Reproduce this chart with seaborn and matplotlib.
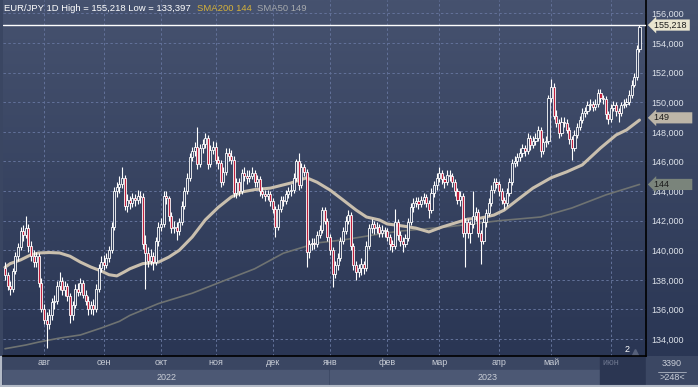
import numpy as np
import pandas as pd
import matplotlib
matplotlib.use("Agg")
import matplotlib.pyplot as plt
from matplotlib.colors import LinearSegmentedColormap
from matplotlib.patches import Rectangle
import seaborn as sns

# EUR/JPY 1D, 11.07.2022 - 16.06.2023
opens = [138.8, 138.3, 137.6, 137.4, 138.6, 139.6, 140.2, 141.3, 141.0, 141.5,
         140.3, 139.6, 139.2, 139.6, 137.8, 136.0, 135.3, 135.0, 135.6, 136.5,
         136.6, 137.6, 137.9, 137.3, 137.6, 136.9, 135.6, 136.3, 137.4, 137.2,
         137.8, 137.0, 136.6, 136.0, 136.3, 136.0, 137.4, 138.8, 139.2, 139.0,
         139.5, 140.0, 141.6, 144.0, 144.3, 144.5, 144.9, 143.0, 143.4, 143.2,
         143.5, 143.4, 143.7, 143.6, 140.4, 139.8, 139.3, 139.6, 139.2, 140.6,
         141.6, 141.8, 143.7, 143.5, 142.3, 141.5, 141.6, 141.3, 141.9, 143.0,
         144.0, 144.9, 146.3, 146.7, 147.0, 145.8, 146.9, 147.2, 147.6, 145.8,
         146.8, 147.0, 146.1, 145.9, 144.6, 145.3, 146.6, 146.4, 146.1, 143.9,
         144.6, 144.0, 145.2, 145.0, 144.9, 145.0, 145.2, 144.6, 144.8, 144.0,
         143.8, 143.7, 143.8, 143.3, 142.8, 141.6, 142.8, 143.4, 143.3, 143.8,
         144.0, 144.1, 144.9, 146.0, 144.4, 145.6, 145.3, 139.9, 140.4, 140.5,
         140.4, 141.0, 141.4, 142.7, 142.0, 140.9, 140.0, 138.4, 139.0, 139.5,
         140.6, 141.3, 142.0, 142.4, 140.3, 139.0, 138.5, 138.8, 139.1, 138.8,
         140.3, 141.5, 141.8, 141.5, 141.6, 141.2, 141.4, 141.3, 140.9, 140.4,
         140.3, 141.9, 141.0, 140.6, 140.4, 140.8, 141.9, 142.9, 143.2, 143.3,
         143.1, 143.4, 143.6, 143.2, 142.7, 143.9, 144.4, 144.9, 145.2, 144.8,
         144.6, 145.1, 145.0, 144.6, 144.0, 143.4, 143.7, 141.2, 141.9, 141.2,
         141.8, 142.3, 142.6, 141.2, 140.6, 141.9, 142.5, 143.2, 144.1, 144.6,
         144.5, 144.0, 143.4, 143.2, 143.9, 144.6, 145.9, 146.0, 146.3, 146.6,
         146.9, 146.7, 147.6, 147.1, 147.4, 147.6, 148.1, 146.7, 147.3, 147.4,
         150.3, 151.0, 149.1, 148.6, 147.9, 148.7, 148.6, 148.1, 147.5, 146.9,
         147.8, 148.3, 148.8, 149.3, 149.4, 149.8, 149.9, 149.7, 149.9, 150.6,
         150.3, 150.2, 149.2, 148.9, 149.6, 149.8, 149.4, 149.3, 149.8, 149.9,
         150.0, 150.5, 151.2, 151.7, 153.6]

highs = [139.2, 138.5, 137.9, 138.8, 139.9, 140.5, 141.6, 141.7, 142.3, 141.8,
         140.6, 140.0, 139.9, 139.8, 138.1, 136.4, 135.8, 136.0, 136.8, 137.0,
         137.9, 138.5, 138.2, 137.9, 137.8, 137.1, 136.6, 137.7, 137.8, 138.1,
         138.0, 137.3, 136.9, 136.6, 136.7, 137.7, 139.1, 139.6, 139.7, 139.8,
         140.3, 141.9, 144.3, 144.6, 145.0, 145.6, 145.1, 143.8, 143.7, 143.9,
         143.8, 144.1, 144.0, 143.9, 141.0, 140.2, 140.1, 139.9, 140.9, 141.9,
         142.2, 144.0, 144.0, 143.7, 142.6, 142.0, 141.9, 142.2, 143.3, 144.3,
         145.2, 146.6, 147.0, 147.3, 148.3, 147.2, 147.5, 147.9, 147.8, 147.1,
         147.4, 147.3, 146.4, 146.1, 145.6, 146.9, 146.9, 146.8, 146.4, 144.9,
         144.9, 145.5, 145.6, 145.4, 145.4, 145.6, 145.4, 145.1, 145.0, 144.3,
         144.1, 144.1, 144.0, 143.5, 143.0, 143.1, 143.7, 143.7, 144.1, 144.3,
         144.5, 145.2, 146.2, 146.6, 145.9, 145.8, 145.5, 140.7, 140.8, 140.8,
         141.3, 141.7, 142.9, 142.9, 142.2, 141.1, 140.2, 139.3, 139.8, 140.9,
         141.6, 142.3, 142.7, 142.6, 140.5, 139.3, 139.1, 139.5, 139.3, 140.6,
         141.8, 142.1, 142.0, 141.9, 141.8, 141.7, 141.6, 141.5, 141.1, 140.7,
         142.8, 142.1, 141.3, 140.9, 141.1, 142.2, 143.2, 143.5, 143.6, 143.6,
         143.7, 143.9, 143.8, 143.4, 144.2, 144.7, 145.2, 145.6, 145.4, 145.0,
         145.4, 145.4, 145.2, 144.8, 144.2, 144.0, 143.9, 142.2, 142.1, 142.0,
         144.0, 142.9, 142.8, 141.4, 142.2, 142.8, 143.5, 144.4, 144.9, 144.9,
         144.7, 144.2, 143.6, 144.2, 144.9, 146.2, 146.4, 146.6, 146.9, 147.2,
         147.1, 147.9, 147.8, 147.7, 147.9, 148.4, 148.3, 147.6, 147.7, 150.5,
         151.6, 151.3, 149.5, 148.9, 149.0, 149.0, 148.9, 148.3, 147.7, 148.1,
         148.6, 149.1, 149.6, 149.7, 150.1, 150.2, 150.1, 150.2, 150.9, 150.9,
         150.5, 150.4, 149.4, 149.9, 150.1, 150.0, 149.6, 150.0, 150.2, 150.3,
         150.8, 151.5, 152.0, 153.9, 155.218]

lows = [138.0, 137.3, 137.0, 137.2, 138.4, 139.3, 140.0, 140.6, 140.8, 139.9,
        139.3, 138.9, 138.9, 137.5, 135.8, 135.0, 133.397, 134.7, 135.3, 136.0,
        136.4, 137.3, 137.0, 136.9, 136.6, 135.1, 135.3, 136.1, 136.9, 137.0,
        136.8, 136.3, 135.6, 135.7, 135.6, 135.8, 137.2, 138.5, 138.7, 138.8,
        139.2, 139.8, 141.4, 143.6, 143.9, 144.2, 142.7, 142.6, 142.8, 142.9,
        143.0, 143.1, 143.2, 140.1, 137.4, 138.9, 139.0, 138.7, 139.0, 140.3,
        141.3, 141.6, 143.1, 142.0, 141.2, 141.2, 140.7, 141.0, 141.7, 142.8,
        143.8, 144.7, 146.0, 146.4, 145.5, 145.6, 146.6, 146.9, 145.5, 145.6,
        146.5, 145.8, 145.5, 144.3, 144.4, 145.1, 146.0, 145.8, 143.6, 143.5,
        143.7, 143.8, 144.7, 144.5, 144.6, 144.8, 144.3, 144.3, 143.7, 143.5,
        143.3, 143.4, 143.0, 142.5, 140.9, 141.4, 142.6, 143.0, 143.1, 143.5,
        143.7, 143.9, 144.7, 144.1, 144.2, 145.0, 138.9, 139.5, 140.0, 140.1,
        140.2, 140.8, 141.2, 141.8, 140.6, 139.7, 137.5, 138.1, 138.7, 139.3,
        140.4, 141.1, 141.8, 140.0, 138.7, 138.0, 138.2, 138.3, 138.4, 138.6,
        140.1, 141.2, 141.1, 141.2, 140.9, 140.9, 140.9, 140.6, 140.0, 139.9,
        140.1, 140.7, 140.3, 139.9, 140.2, 140.6, 141.7, 142.6, 142.9, 142.8,
        142.9, 143.1, 142.9, 142.2, 142.5, 143.6, 144.1, 144.6, 144.5, 144.2,
        144.4, 144.7, 144.3, 143.7, 143.1, 143.0, 140.9, 138.9, 140.8, 140.5,
        141.5, 142.0, 140.9, 139.1, 140.4, 141.6, 142.3, 143.0, 143.9, 144.2,
        143.7, 143.1, 142.8, 143.0, 143.7, 144.4, 145.6, 145.7, 146.0, 146.3,
        146.4, 146.5, 146.8, 146.9, 147.1, 147.4, 146.3, 146.5, 147.0, 147.2,
        150.0, 148.9, 148.3, 147.6, 147.7, 148.3, 147.9, 147.2, 146.1, 146.7,
        147.6, 148.1, 148.6, 149.0, 149.2, 149.5, 149.4, 149.5, 149.7, 150.0,
        149.9, 148.9, 148.5, 148.7, 149.4, 149.1, 148.7, 149.1, 149.6, 149.7,
        149.8, 150.3, 151.0, 151.5, 153.4]

closes = [138.3, 137.6, 137.4, 138.6, 139.6, 140.2, 141.3, 141.0, 141.5, 140.3,
          139.6, 139.2, 139.6, 137.8, 136.0, 135.3, 135.0, 135.6, 136.5, 136.6,
          137.6, 137.9, 137.3, 137.6, 136.9, 135.6, 136.3, 137.4, 137.2, 137.8,
          137.0, 136.6, 136.0, 136.3, 136.0, 137.4, 138.8, 139.2, 139.0, 139.5,
          140.0, 141.6, 144.0, 144.3, 144.5, 144.9, 143.0, 143.4, 143.2, 143.5,
          143.4, 143.7, 143.6, 140.4, 139.8, 139.3, 139.6, 139.2, 140.6, 141.6,
          141.8, 143.7, 143.5, 142.3, 141.5, 141.6, 141.3, 141.9, 143.0, 144.0,
          144.9, 146.3, 146.7, 147.0, 145.8, 146.9, 147.2, 147.6, 145.8, 146.8,
          147.0, 146.1, 145.9, 144.6, 145.3, 146.6, 146.4, 146.1, 143.9, 144.6,
          144.0, 145.2, 145.0, 144.9, 145.0, 145.2, 144.6, 144.8, 144.0, 143.8,
          143.7, 143.8, 143.3, 142.8, 141.6, 142.8, 143.4, 143.3, 143.8, 144.0,
          144.1, 144.9, 146.0, 144.4, 145.6, 145.3, 139.9, 140.4, 140.5, 140.4,
          141.0, 141.4, 142.7, 142.0, 140.9, 140.0, 138.4, 139.0, 139.5, 140.6,
          141.3, 142.0, 142.4, 140.3, 139.0, 138.5, 138.8, 139.1, 138.8, 140.3,
          141.5, 141.8, 141.5, 141.6, 141.2, 141.4, 141.3, 140.9, 140.4, 140.3,
          141.9, 141.0, 140.6, 140.4, 140.8, 141.9, 142.9, 143.2, 143.3, 143.1,
          143.4, 143.6, 143.2, 142.7, 143.9, 144.4, 144.9, 145.2, 144.8, 144.6,
          145.1, 145.0, 144.6, 144.0, 143.4, 143.7, 141.2, 141.9, 141.2, 141.8,
          142.3, 142.6, 141.2, 140.6, 141.9, 142.5, 143.2, 144.1, 144.6, 144.5,
          144.0, 143.4, 143.2, 143.9, 144.6, 145.9, 146.0, 146.3, 146.6, 146.9,
          146.7, 147.6, 147.1, 147.4, 147.6, 148.1, 146.7, 147.3, 147.4, 150.3,
          151.0, 149.1, 148.6, 147.9, 148.7, 148.6, 148.1, 147.5, 146.9, 147.8,
          148.3, 148.8, 149.3, 149.4, 149.8, 149.9, 149.7, 149.9, 150.6, 150.3,
          150.2, 149.2, 148.9, 149.6, 149.8, 149.4, 149.3, 149.8, 149.9, 150.0,
          150.5, 151.2, 151.7, 153.6, 155.1]

# medias moviles (indice de vela, valor)
sma50_idx = [0, 2, 6, 10, 13, 17, 21, 25, 29, 33, 37, 40, 43, 46, 48, 53, 59, 63,
             67, 72, 77, 82, 87, 91, 96, 102, 110, 116, 120, 125, 130, 135, 139,
             144, 147, 153, 158, 163, 168, 173, 178, 183, 188, 192, 197, 203, 210,
             216, 222, 229, 235, 239, 244]
sma50_val = [138.85, 139.1, 139.35, 139.7, 139.82, 139.85, 139.82, 139.6, 139.2,
             138.87, 138.6, 138.35, 138.27, 138.55, 138.75, 139.1, 139.2, 139.54,
             140.0, 140.9, 142.05, 142.9, 143.6, 143.94, 144.1, 144.2, 144.55,
             144.9, 144.6, 144.07, 143.4, 142.72, 142.25, 142.05, 141.78, 141.64,
             141.5, 141.24, 141.57, 141.84, 142.11, 142.18, 142.38, 142.72, 143.4,
             144.2, 144.9, 145.3, 145.77, 146.91, 147.79, 148.13, 148.8]
sma200_idx = [0, 8, 13, 21, 29, 37, 44, 48, 59, 72, 85, 96, 107, 120, 130, 144,
              152, 171, 190, 206, 218, 231, 244]
sma200_val = [133.35, 133.6, 133.8, 134.07, 134.28, 134.75, 135.2, 135.6, 136.4,
              137.1, 138.0, 138.75, 139.8, 140.5, 140.7, 141.1, 141.3, 141.6, 142.0,
              142.25, 142.86, 143.74, 144.45]

month_idx = [15, 38, 60, 81, 103, 125, 147, 167, 190, 210, 233]
month_labels = ["авг", "сен", "окт", "ноя", "дек", "янв", "фев", "мар", "апр", "май", "июн"]
year_labels = ["2022", "2023"]
year_pos = [62, 185.5]
price_ticks = list(range(134, 157, 2))
high_val = 155.218
low_val = 133.397

W, H = 698, 387
BG_TOP, BG_BOT = "#46526f", "#2a3654"
TXT = "#dde2ea"

sns.set_style("dark")
plt.rcParams["font.family"] = ["Liberation Sans", "DejaVu Sans"]

df = pd.DataFrame({"open": opens, "high": highs, "low": lows, "close": closes})
df["idx"] = np.arange(len(df))
up = df["close"] >= df["open"]
body_low = df[["open", "close"]].min(axis=1)
body_h = (df["close"] - df["open"]).abs().clip(lower=0.07)

fig = plt.figure(figsize=(W / 100, H / 100), dpi=100)
fig.patch.set_facecolor("#3a4662")

cmap = LinearSegmentedColormap.from_list("bg", [BG_TOP, BG_BOT])
grad = np.linspace(0, 1, 256).reshape(-1, 1)

# panel inferior (meses / anios)
axb = fig.add_axes([0, 0, 1, 31 / H])
axb.set_xlim(0, W)
axb.set_ylim(0, 31)
axb.axis("off")
axb.add_patch(Rectangle((0, 0), W, 31, color="#3a4662"))
axb.add_patch(Rectangle((3, 2), 325, 15, color="#4c5874"))
axb.add_patch(Rectangle((330, 2), 270, 15, color="#4c5874"))
axb.add_patch(Rectangle((600, 2), 46, 29, color="#2b3652"))
axb.add_patch(Rectangle((646, 2), 52, 29, color="#3b4763"))
axb.plot([658, 686], [15, 15], color="#aeb5c2", lw=0.6)
axb.text(672, 23, "3390", ha="center", va="center", fontsize=6.5, color="#c9ced8")
axb.text(672, 9.5, ">248<", ha="center", va="center", fontsize=6.5, color="#c9ced8")
axb.plot([1, 1], [0, 31], color="#b3bac6", lw=1.5)
axb.plot([0, W], [0.6, 0.6], color="#b3bac6", lw=1.5)

# panel derecho
axr = fig.add_axes([646 / W, 31 / H, 52 / W, 356 / H])
axr.imshow(grad, cmap=cmap, aspect="auto", extent=[0, 1, 0, 1])
axr.set_xlim(0, 1)
axr.set_ylim(0, 1)
axr.axis("off")

# grafico principal
ax = fig.add_axes([3 / W, 31 / H, 643 / W, 356 / H])
ax.set_zorder(5)
x0, x1 = -0.77, 246.5
y0, y1 = 132.858, 156.912
ax.imshow(grad, cmap=cmap, aspect="auto", extent=[x0, x1, y0, y1], zorder=0)

ax.vlines(df["idx"], df["low"], df["high"], color="white", lw=0.8, zorder=3)
ax.bar(df["idx"][up], body_h[up], bottom=body_low[up], width=0.8,
       facecolor="#34405e", edgecolor="white", linewidth=0.6, zorder=4)
ax.bar(df["idx"][~up], body_h[~up], bottom=body_low[~up], width=0.8,
       facecolor="#c0213e", edgecolor="white", linewidth=0.6, zorder=4)

sns.lineplot(x=sma200_idx, y=sma200_val, ax=ax, color="#6f7372", lw=1.2, zorder=2.5)
sns.lineplot(x=sma50_idx, y=sma50_val, ax=ax, color="#c9bfae", lw=2.2, zorder=2.6)

ax.axhline(high_val, color="white", lw=1, zorder=6)

ax.set_xlim(x0, x1)
ax.set_ylim(y0, y1)
ax.set_xlabel("")
ax.set_ylabel("")
ax.set_xticks(month_idx)
ax.set_xticklabels(month_labels)
for lab in ax.get_xticklabels():
    lab.set_color("#6f7890" if lab.get_text() == "июн" else "#c8cdd6")
ax.set_yticks(price_ticks)
ax.set_yticklabels([f"{v:.3f}".replace(".", ",") for v in price_ticks])
ax.yaxis.tick_right()
ax.tick_params(axis="y", length=0, pad=4, labelsize=6.5, labelcolor=TXT)
ax.tick_params(axis="x", length=0, pad=1.5, labelsize=6.5)
ax.grid(True, color="#63729a", lw=0.7, ls=(0, (2.5, 2.5)))
for s in ["left", "top"]:
    ax.spines[s].set_visible(False)
ax.spines["bottom"].set_color("black")
ax.spines["right"].set_color("black")
ax.spines["bottom"].set_linewidth(1.2)
ax.spines["right"].set_linewidth(1.2)

for lab, xp in zip(year_labels, year_pos):
    ax.text(xp, -0.06, lab, transform=ax.get_xaxis_transform(), ha="center",
            va="center", fontsize=6.5, color="#c8cdd6", clip_on=False)

# cabecera
ax.text(0.002, 0.977, f"EUR/JPY 1D High = {high_val:.3f} Low = {low_val:.3f}".replace(".", ","),
        transform=ax.transAxes, fontsize=6.8, color="white", va="center", ha="left")
ax.text(0.302, 0.977, f"SMA200 {sma200_val[-1]:.0f}", transform=ax.transAxes,
        fontsize=6.8, color="#d6b23a", va="center", ha="left")
ax.text(0.395, 0.977, f"SMA50 {sma50_val[-1]:.0f}", transform=ax.transAxes,
        fontsize=6.8, color="#a6a9ad", va="center", ha="left")

# etiquetas de precio a la derecha
yt = ax.get_yaxis_transform()
ax.text(1.012, high_val, f"{high_val:.3f}".replace(".", ",") + " ", transform=yt,
        va="center", ha="left", fontsize=6.5, color="#1b1b1b", clip_on=False, zorder=7,
        bbox=dict(boxstyle="larrow,pad=0.12", fc="#e9e5cf", ec="none"))
ax.text(1.012, sma50_val[-1] + 0.15, f"{sma50_val[-1]:.0f}" + " " * 9, transform=yt,
        va="center", ha="left", fontsize=6.5, color="#1b1b1b", clip_on=False, zorder=7,
        bbox=dict(boxstyle="larrow,pad=0.12", fc="#bdb6a8", ec="none"))
ax.text(1.012, sma200_val[-1], f"{sma200_val[-1]:.0f}" + " " * 9, transform=yt,
        va="center", ha="left", fontsize=6.5, color="#1b1b1b", clip_on=False, zorder=7,
        bbox=dict(boxstyle="larrow,pad=0.12", fc="#7a847b", ec="none"))

ax.text(239.2, 0.018, "2", transform=ax.get_xaxis_transform(), ha="center",
        va="center", fontsize=6.5, color="white")
ax.plot([242.3], [0.012], marker="^", ms=4, color="#56607a",
        transform=ax.get_xaxis_transform(), clip_on=False)

fig.savefig("out.png", dpi=100, facecolor=fig.get_facecolor())
